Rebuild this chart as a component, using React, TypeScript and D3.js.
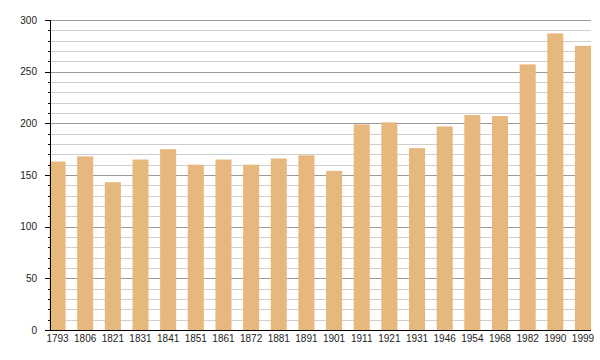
import React from "react";
import * as d3 from "d3";

const years = ["1793","1806","1821","1831","1841","1851","1861","1872","1881","1891","1901","1911","1921","1931","1946","1954","1968","1982","1990","1999"];
const population = [163,168,143,165,175,160,165,160,166,169,154,199,201,176,197,208,207,257,287,275];
const majorTicks = [0,50,100,150,200,250,300];
const minorTicks = d3.range(0, 301, 10);

const W = 600, H = 360;
const left = 50, right = 591, top = 20, bottom = 330;

export default function App() {
  const x = d3.scaleBand<string>().domain(years).range([49.5, right]).paddingInner(0.42).paddingOuter(0);
  const y = d3.scaleLinear().domain([0, 300]).range([bottom, top]);
  const font = "'Liberation Sans', Arial, sans-serif";
  return (
    <svg width={W} height={H} style={{ position: "absolute", left: 0, top: 0 }}>
      <rect width={W} height={H} fill="#fff" />
      {minorTicks.map((t) => (
        <line key={"g" + t} x1={left} x2={right} y1={Math.round(y(t)) + 0.5} y2={Math.round(y(t)) + 0.5}
          stroke={t % 50 === 0 ? "#9a9a9a" : "#cfcfcf"} strokeWidth={1} />
      ))}
      {years.map((yr, i) => (
        <rect key={yr} x={x(yr)} y={y(population[i])} width={x.bandwidth()} height={bottom - y(population[i])} fill="#e6b87e" />
      ))}
      {minorTicks.map((t) => (
        <line key={"t" + t} x1={t % 50 === 0 ? left - 5 : left - 2} x2={left} y1={Math.round(y(t)) + 0.5} y2={Math.round(y(t)) + 0.5} stroke="#000" />
      ))}
      <line x1={left + 0.5} x2={left + 0.5} y1={top} y2={bottom + 1} stroke="#000" />
      <line x1={left} x2={right} y1={bottom + 0.5} y2={bottom + 0.5} stroke="#000" strokeWidth={1.2} />
      {majorTicks.map((t) => (
        <text key={"l" + t} x={left - 13} y={y(t) + 3.5} textAnchor="end" fontFamily={font} fontSize={10} fill="#222">{t}</text>
      ))}
      {years.map((yr) => (
        <text key={"x" + yr} x={(x(yr) as number) + x.bandwidth() / 2} y={342} textAnchor="middle" fontFamily={font} fontSize={10} fill="#222">{yr}</text>
      ))}
    </svg>
  );
}
